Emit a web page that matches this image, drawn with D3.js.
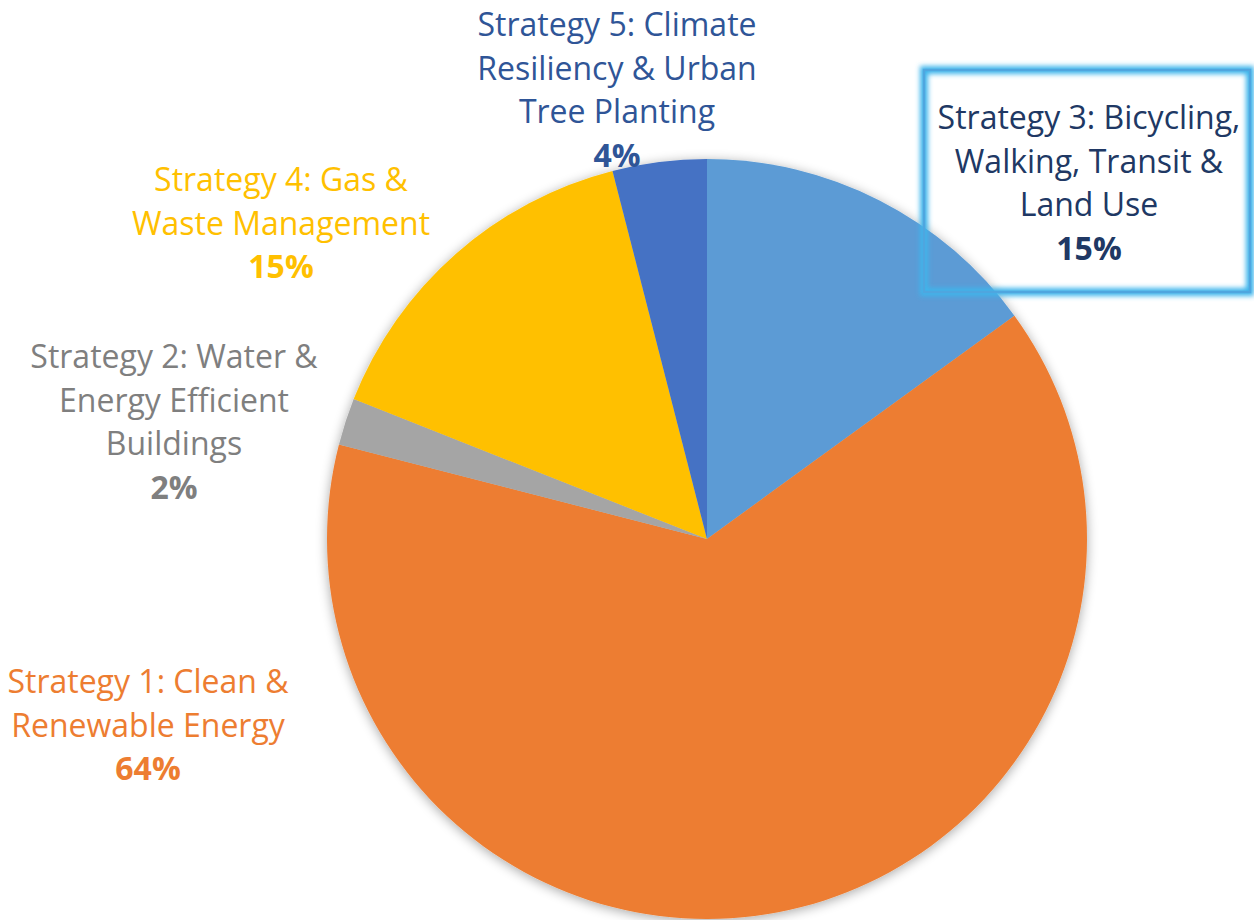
<!DOCTYPE html>
<html>
<head>
<meta charset="utf-8">
<title>Strategies</title>
<script src="https://d3js.org/d3.v7.min.js"></script>
<style>
  body { margin: 0; background: #fff; font-family: "Open Sans", sans-serif; }
</style>
</head>
<body>
<div id="chart"></div>
<script>
// slices, clockwise from 12 o'clock
var names = ["Strategy 3", "Strategy 1", "Strategy 2", "Strategy 4", "Strategy 5"];
var values = [15, 64, 2, 15, 4];
var fills = ["#5B9BD5", "#ED7D31", "#A5A5A5", "#FFC000", "#4472C4"];
var labelLines = [
  ["Strategy 3: Bicycling,", "Walking, Transit &", "Land Use"],
  ["Strategy 1: Clean &", "Renewable Energy"],
  ["Strategy 2: Water &", "Energy Efficient", "Buildings"],
  ["Strategy 4: Gas &", "Waste Management"],
  ["Strategy 5: Climate", "Resiliency & Urban", "Tree Planting"]
];
var labelColors = ["#203864", "#ED7D31", "#7F7F7F", "#FFC000", "#2F5597"];
// label anchor: centre x and first baseline
var labelPos = [[1089, 129], [148, 693], [174, 368], [281, 191], [617, 36]];

var w = 1254, h = 920;
var cx = 707, cy = 539, r = 380;

var svg = d3.select("#chart").append("svg")
  .attr("width", w).attr("height", h);

var defs = svg.append("defs");
var sh = defs.append("filter").attr("id", "shadow")
  .attr("x", "-10%").attr("y", "-10%").attr("width", "120%").attr("height", "120%");
sh.append("feGaussianBlur").attr("in", "SourceAlpha").attr("stdDeviation", 6).attr("result", "b");
sh.append("feOffset").attr("in", "b").attr("dx", 0).attr("dy", 2).attr("result", "o");
sh.append("feComponentTransfer").attr("in", "o").attr("result", "s")
  .append("feFuncA").attr("type", "linear").attr("slope", 0.35);
var m = sh.append("feMerge");
m.append("feMergeNode").attr("in", "s");
m.append("feMergeNode").attr("in", "SourceGraphic");

var glow = defs.append("filter").attr("id", "glow")
  .attr("x", "-10%").attr("y", "-10%").attr("width", "120%").attr("height", "120%");
glow.append("feGaussianBlur").attr("stdDeviation", 2.5);

var pie = d3.pie().sort(null).value(function(d) { return d; });
var arc = d3.arc().innerRadius(0).outerRadius(r);
var arcs = pie(values);

var g = svg.append("g")
  .attr("transform", "translate(" + cx + "," + cy + ")")
  .attr("filter", "url(#shadow)");

g.selectAll("path")
  .data(arcs).enter()
  .append("path")
  .attr("d", arc)
  .attr("fill", function(d, i) { return fills[i]; });

// highlighted box around the Strategy 3 label
var box = {x: 924, y: 70, w: 326, h: 222};
svg.append("rect")
  .attr("x", box.x).attr("y", box.y).attr("width", box.w).attr("height", box.h)
  .attr("fill", "none").attr("stroke", "#3DB5EC").attr("stroke-width", 8)
  .attr("filter", "url(#glow)");
svg.append("rect")
  .attr("x", box.x).attr("y", box.y).attr("width", box.w).attr("height", box.h)
  .attr("fill", "none").attr("stroke", "#4FA6DF").attr("stroke-width", 2.5);

var lineH = 43.5;
var labels = svg.selectAll("g.lbl")
  .data(arcs).enter()
  .append("g").attr("class", "lbl");

labels.each(function(d, i) {
  var t = d3.select(this).append("text")
    .attr("text-anchor", "middle")
    .attr("font-size", 32)
    .attr("fill", labelColors[i]);
  var lines = labelLines[i];
  lines.forEach(function(s, k) {
    t.append("tspan")
      .attr("x", labelPos[i][0])
      .attr("y", labelPos[i][1] + k * lineH)
      .text(s);
  });
  t.append("tspan")
    .attr("x", labelPos[i][0])
    .attr("y", labelPos[i][1] + lines.length * lineH)
    .attr("font-weight", "bold")
    .text(d3.format(".0%")(d.data / d3.sum(values)));
});
</script>
</body>
</html>
